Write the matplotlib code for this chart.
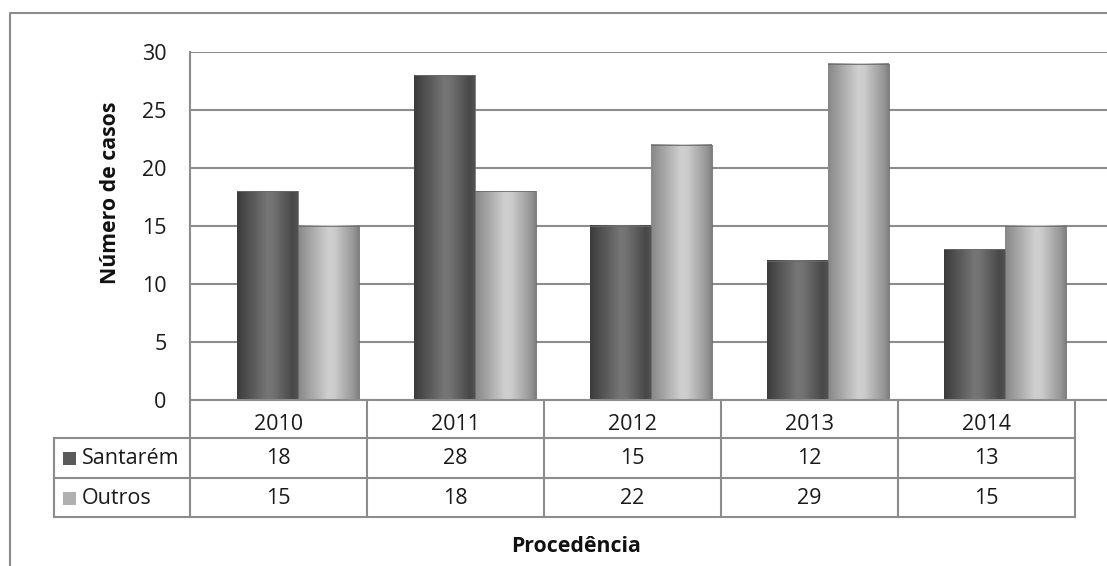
import matplotlib
matplotlib.use("Agg")
import matplotlib.pyplot as plt
import numpy as np

years = ["2010", "2011", "2012", "2013", "2014"]
series_names = ["Santarém", "Outros"]
santarem = [18, 28, 15, 12, 13]
outros = [15, 18, 22, 29, 15]
yticks = [0, 5, 10, 15, 20, 25, 30]
ylabel = "Número de casos"
xlabel = "Procedência"

plt.rcParams['font.family'] = ['Open Sans', 'DejaVu Sans']

W, H = 1107, 566
fig = plt.figure(figsize=(W / 100, H / 100), dpi=100)
fig.patch.set_facecolor('white')

# plot area in pixel coords
L, R, T, B = 190, 1107, 52, 400
ax = fig.add_axes([L / W, (H - B) / H, (R - L) / W, (B - T) / H])
cat_w = 176.7
c0 = 298
ax.set_xlim((L - c0) / cat_w, (R - c0) / cat_w)
ax.set_ylim(0, 30)
ax.set_yticks(yticks)
ax.set_xticks([])
ax.tick_params(axis='y', length=0, pad=17, labelsize=15.5, labelcolor='#1a1a1a')
for s in ax.spines.values():
    s.set_visible(False)
ax.yaxis.grid(True, color='#8c8c8c', linewidth=1.5)
ax.set_axisbelow(True)

bw = 0.345
gdark_pos = [0, 0.5, 0.6, 0.92, 1]
gdark_val = [0x3c, 0x76, 0x72, 0x48, 0x52]
glight_pos = [0, 0.5, 0.6, 0.93, 1]
glight_val = [0x88, 0xd0, 0xcc, 0x94, 0x80]

def grad(pos, val):
    t = np.linspace(0, 1, 64)
    v = np.interp(t, pos, val) / 255.0
    return np.dstack([v, v, v]).reshape(1, 64, 3)

x = np.arange(len(years))
for vals, off, (gp, gv) in [(santarem, -bw / 2, (gdark_pos, gdark_val)),
                             (outros, bw / 2, (glight_pos, glight_val))]:
    bars = ax.bar(x + off, vals, width=bw, color='none', edgecolor='none', zorder=3)
    img = grad(gp, gv)
    for b in bars:
        x0, w, h = b.get_x(), b.get_width(), b.get_height()
        ax.imshow(img, extent=[x0, x0 + w, 0, h], aspect='auto', zorder=3,
                  interpolation='bilinear')
        ax.plot([x0, x0 + w, x0 + w], [h, h, 0], color='#6a6a6a', lw=0.6, zorder=4)
ax.set_xlim((L - c0) / cat_w, (R - c0) / cat_w)
ax.set_ylim(0, 30)

# overlay in pixel coords
ov = fig.add_axes([0, 0, 1, 1], facecolor='none')
ov.set_xlim(0, W)
ov.set_ylim(H, 0)
ov.axis('off')
lc = '#8c8c8c'
lw = 1.5

# outer border
ov.plot([10, 10, W], [H, 13, 13], color=lc, lw=lw)
# axis lines
ov.plot([L, L], [T, 517], color=lc, lw=lw)
ov.plot([L, W], [B, B], color=lc, lw=lw)

col_w = 177
edges = [L + col_w * i for i in range(len(years) + 1)]
rows = [400, 438, 478, 517]
tab_left = 54
for yy in rows[1:]:
    ov.plot([tab_left, edges[-1]], [yy, yy], color=lc, lw=lw)
ov.plot([tab_left, tab_left], [rows[1], rows[3]], color=lc, lw=lw)
for e in edges[1:]:
    ov.plot([e, e], [rows[0], rows[3]], color=lc, lw=lw)

fs = 15.5
tc = '#1a1a1a'
for i, yr in enumerate(years):
    cx = (edges[i] + edges[i + 1]) / 2
    ov.text(cx, 425, yr, ha='center', va='center', fontsize=fs, color=tc)
    ov.text(cx, 458.5, str(santarem[i]), ha='center', va='center', fontsize=fs, color=tc)
    ov.text(cx, 499, str(outros[i]), ha='center', va='center', fontsize=fs, color=tc)

leg_cols = ['#5a5a5a', '#b0b0b0']
for name, yc, col in zip(series_names, [458, 498], leg_cols):
    ov.add_patch(plt.Rectangle((63, yc - 6.5), 13, 13, facecolor=col, edgecolor='none'))
    ov.text(82, yc, name, ha='left', va='center', fontsize=fs, color=tc)

ov.text(576, 546, xlabel, ha='center', va='center', fontsize=15.3, fontweight='bold', color='#111111')
ov.text(110, 193, ylabel, ha='center', va='center', rotation=90, fontsize=15.3, fontweight='bold', color='#111111')

fig.savefig('out.png', dpi=100, facecolor='white')
